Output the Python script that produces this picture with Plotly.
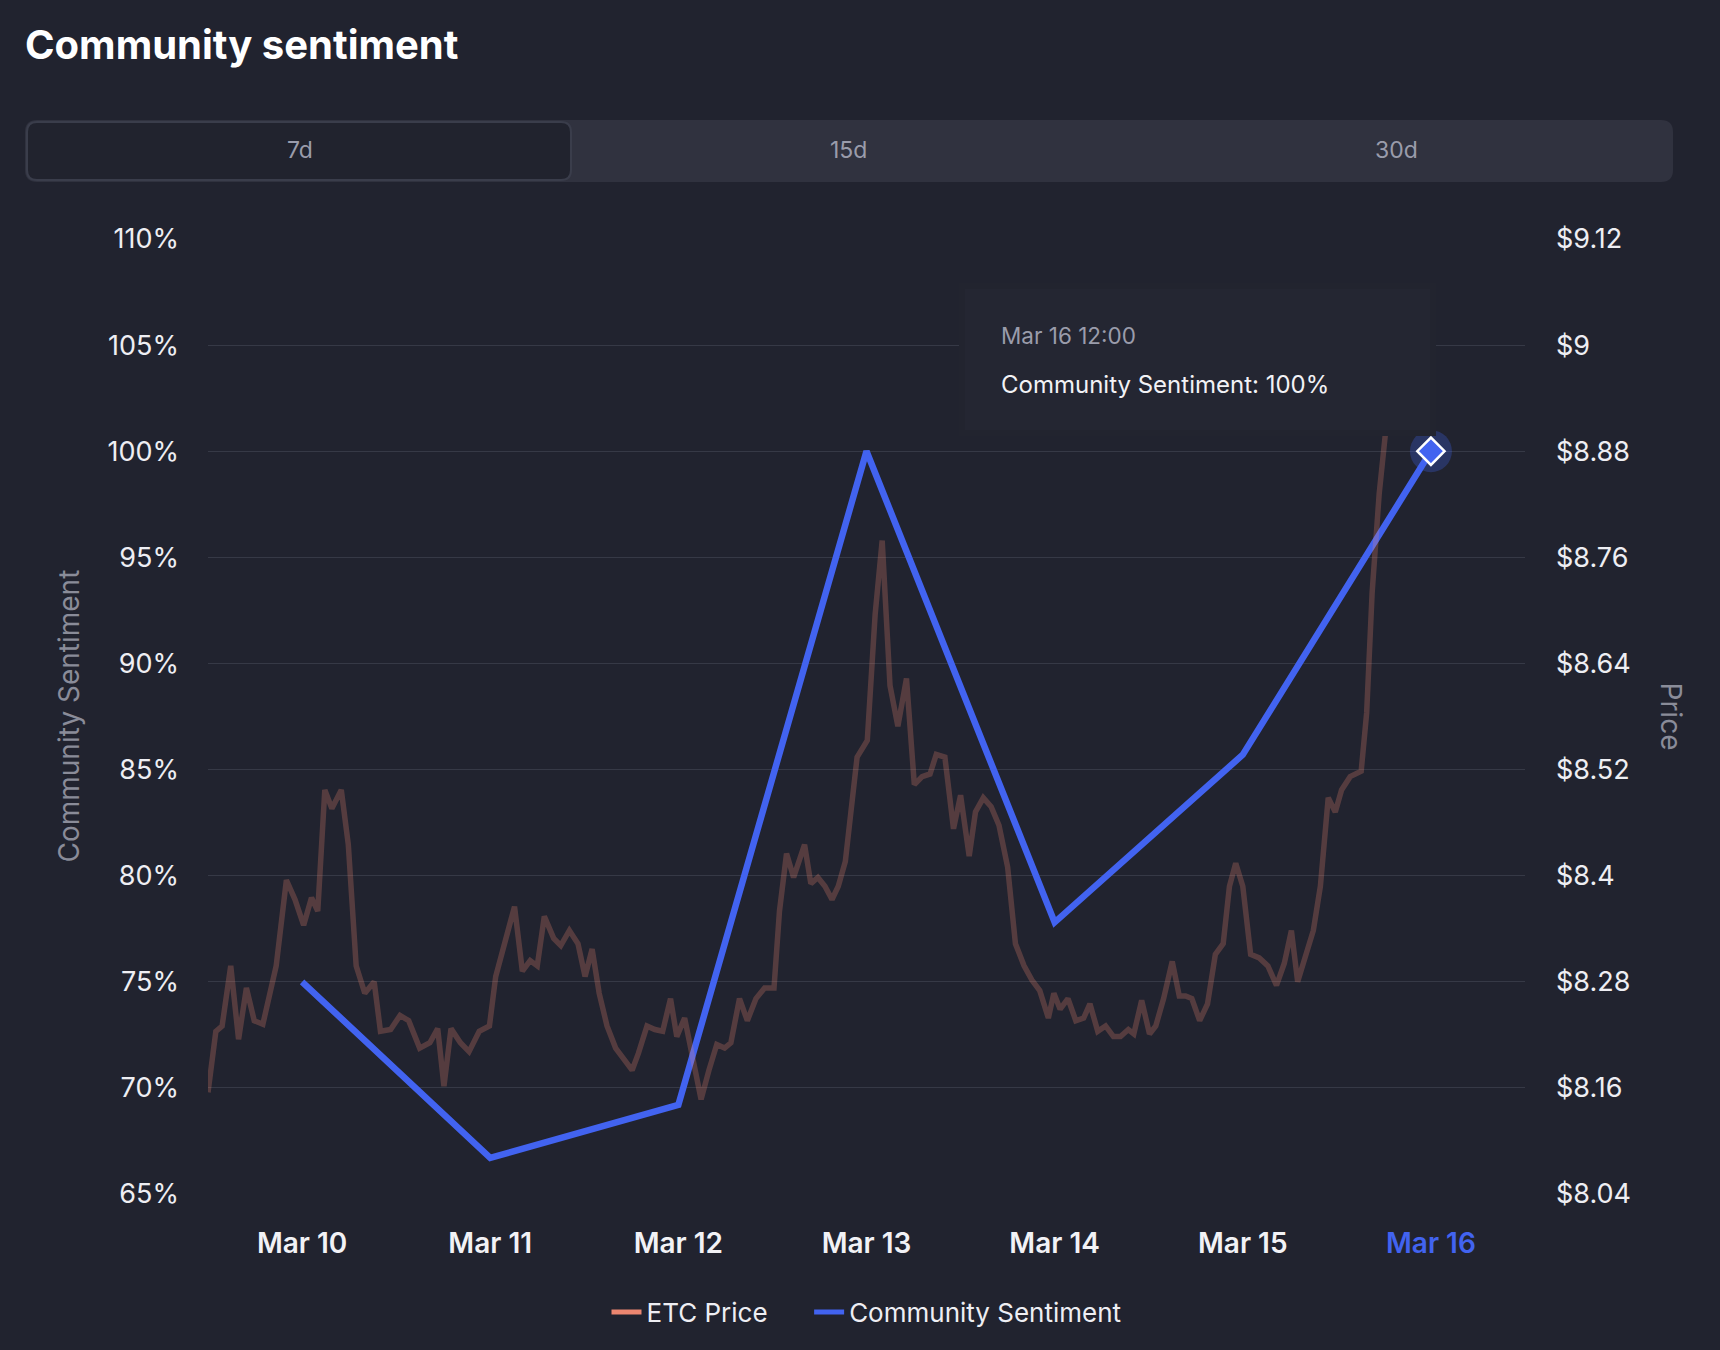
import plotly.graph_objects as go
import pandas as pd

# ---------------- data ----------------
sentiment_dates = ["2025-03-10 12:00", "2025-03-11 12:00", "2025-03-12 12:00", "2025-03-13 12:00",
                   "2025-03-14 12:00", "2025-03-15 12:00", "2025-03-16 12:00"]
sentiment_values = [75.0, 66.7, 69.2, 100.0, 77.8, 85.7, 100.0]

price_hours = [0, 1.0, 1.8, 2.9, 3.9, 4.9, 5.9, 7.0, 8.7, 10.0, 11.1, 12.2, 13.2, 14.0, 14.9, 15.8, 17.0, 17.9,
               18.9, 20.0, 21.2, 22.0, 23.3, 24.5, 25.6, 27.0, 28.3, 29.3, 30.1, 31.0, 32.2, 33.3, 34.6, 35.9,
               36.7, 38.0, 39.1, 40.1, 41.1, 42.0, 42.9, 44.1, 45.0, 46.1, 47.2, 48.1, 49.0, 49.9, 50.9, 52.0,
               53.1, 54.1, 54.9, 56.0, 57.0, 58.0, 59.0, 59.8, 60.8, 61.9, 62.9, 63.9, 64.9, 65.9, 66.7, 67.8,
               68.8, 69.9, 71.0, 72.2, 72.9, 73.8, 74.7, 76.1, 76.9, 77.8, 78.7, 79.6, 80.4, 81.3, 82.0, 82.8,
               83.7, 84.1, 85.1, 86.0, 87.0, 88.0, 89.1, 90.1, 91.1, 92.1, 92.9, 94.0, 95.1, 96.0, 97.1, 97.9,
               98.9, 99.9, 100.9, 102.0, 103.0, 104.1, 105.1, 106.1, 107.2, 107.9, 108.7, 109.7, 110.7, 111.7,
               112.5, 113.5, 114.5, 115.5, 116.4, 117.4, 118.1, 119.1, 120.1, 120.9, 121.9, 123.0, 123.9, 124.7,
               125.5, 126.5, 127.5, 128.5, 129.5, 130.3, 131.1, 132.0, 133.0, 134.1, 135.2, 136.3, 137.3, 138.2,
               139.0, 139.7, 141.0, 141.9, 142.9, 143.8, 144.6, 145.7, 147.1, 147.8, 148.5, 149.4, 150.2, 151.0]
price_values = [8.155, 8.224, 8.230, 8.298, 8.215, 8.273, 8.236, 8.232, 8.298, 8.395, 8.373, 8.344, 8.375, 8.360,
                8.497, 8.476, 8.497, 8.435, 8.298, 8.267, 8.280, 8.224, 8.226, 8.242, 8.236, 8.205, 8.211, 8.227,
                8.162, 8.227, 8.211, 8.201, 8.224, 8.230, 8.286, 8.329, 8.365, 8.292, 8.304, 8.298, 8.354, 8.329,
                8.321, 8.338, 8.323, 8.286, 8.317, 8.267, 8.230, 8.205, 8.193, 8.180, 8.199, 8.230, 8.226, 8.224,
                8.261, 8.218, 8.239, 8.193, 8.147, 8.180, 8.209, 8.205, 8.211, 8.261, 8.236, 8.261, 8.273, 8.273,
                8.360, 8.425, 8.398, 8.435, 8.391, 8.398, 8.388, 8.373, 8.388, 8.416, 8.472, 8.534, 8.547, 8.553,
                8.695, 8.779, 8.615, 8.569, 8.623, 8.503, 8.512, 8.515, 8.537, 8.534, 8.453, 8.491, 8.422, 8.472,
                8.488, 8.478, 8.457, 8.410, 8.323, 8.298, 8.282, 8.270, 8.239, 8.267, 8.249, 8.261, 8.236, 8.239,
                8.255, 8.224, 8.230, 8.218, 8.218, 8.226, 8.221, 8.259, 8.221, 8.230, 8.261, 8.303, 8.264, 8.264,
                8.261, 8.236, 8.255, 8.311, 8.323, 8.388, 8.414, 8.388, 8.311, 8.307, 8.298, 8.276, 8.301, 8.338,
                8.280, 8.301, 8.338, 8.388, 8.488, 8.472, 8.497, 8.512, 8.518, 8.584, 8.720, 8.832, 8.907, 8.969]

x_tick_dates = sentiment_dates
x_tick_labels = ["Mar 10", "Mar 11", "Mar 12", "Mar 13", "Mar 14", "Mar 15", "Mar 16"]
y_left_ticks = [65, 70, 75, 80, 85, 90, 95, 100, 105, 110]
y_left_labels = ["65%", "70%", "75%", "80%", "85%", "90%", "95%", "100%", "105%", "110%"]
y_right_ticks = [8.04, 8.16, 8.28, 8.40, 8.52, 8.64, 8.76, 8.88, 9.00, 9.12]
y_right_labels = ["$8.04", "$8.16", "$8.28", "$8.4", "$8.52", "$8.64", "$8.76", "$8.88", "$9", "$9.12"]
tabs = ["7d", "15d", "30d"]

# ---------------- style ----------------
W, H = 1720, 1350
ML, MR, MT, MB = 208, 195, 239, 156
PW, PH = W - ML - MR, H - MT - MB
BG = "#21232f"
GRID = "#363946"
BLUE = "#4263f0"
SALMON = "#ec8670"
FONT = "Inter"


def px(x):
    return (x - ML) / PW


def py(y):
    return (H - MB - y) / PH


def rrect(x0, y0, x1, y1, r):
    rx, ry = r / PW, r / PH
    a, b, c, d = px(x0), py(y1), px(x1), py(y0)  # left, bottom, right, top
    return (f"M {a+rx},{b} L {c-rx},{b} Q {c},{b} {c},{b+ry} L {c},{d-ry} Q {c},{d} {c-rx},{d} "
            f"L {a+rx},{d} Q {a},{d} {a},{d-ry} L {a},{b+ry} Q {a},{b} {a+rx},{b} Z")


base = pd.Timestamp("2025-03-10 00:00")
price_dates = [base + pd.Timedelta(hours=h) for h in price_hours]

fig = go.Figure()

fig.add_trace(go.Scatter(x=price_dates, y=price_values, yaxis="y2", mode="lines",
                         line=dict(color="rgba(236,134,112,0.26)", width=5.5),
                         name="ETC Price", showlegend=False))
fig.add_trace(go.Scatter(x=sentiment_dates, y=sentiment_values, mode="lines",
                         line=dict(color=BLUE, width=6.5),
                         name="Community Sentiment", showlegend=False))
# highlighted last point
fig.add_trace(go.Scatter(x=sentiment_dates[-1:], y=sentiment_values[-1:], mode="markers",
                         marker=dict(size=42, color="rgba(66,99,240,0.28)"), showlegend=False))
fig.add_trace(go.Scatter(x=sentiment_dates[-1:], y=sentiment_values[-1:], mode="markers",
                         marker=dict(size=21, symbol="diamond", color=BLUE, line=dict(color="white", width=2.5)),
                         showlegend=False))
# legend entries
fig.add_trace(go.Scatter(x=[None], y=[None], mode="lines", line=dict(color=SALMON, width=5),
                         name="ETC Price" + "\u00a0" * 5))
fig.add_trace(go.Scatter(x=[None], y=[None], mode="lines", line=dict(color=BLUE, width=5),
                         name="Community Sentiment"))

ticktext = x_tick_labels[:-1] + [f"<span style='color:{BLUE}'>{x_tick_labels[-1]}</span>"]

shapes = [
    dict(type="path", path=rrect(25, 120, 1673, 182, 12), xref="paper", yref="paper",
         fillcolor="#30323f", line=dict(width=0), layer="below"),
    dict(type="path", path=rrect(27, 122, 571, 180, 10), xref="paper", yref="paper",
         fillcolor="#21232e", line=dict(color="#3a3d4b", width=2), layer="below"),
    # tooltip box
    dict(type="rect", x0=px(959), x1=px(1436), y0=py(436), y1=py(283), xref="paper", yref="paper",
         fillcolor="#22242f", line=dict(width=0), layer="above"),
    dict(type="rect", x0=px(965), x1=px(1430), y0=py(430), y1=py(289), xref="paper", yref="paper",
         fillcolor="#242632", line=dict(width=0), layer="above"),
]

annotations = []
for label, xc in zip(tabs, [300, 848, 1396]):
    annotations.append(dict(text=label, x=px(xc), y=py(150), xref="paper", yref="paper", showarrow=False,
                            xanchor="center", yanchor="middle", font=dict(family=FONT, size=23, color="#9a9cab")))
annotations += [
    dict(text="Community Sentiment", x=px(68), y=0.5, xref="paper", yref="paper", showarrow=False,
         textangle=-90, xanchor="center", yanchor="middle", font=dict(family=FONT, size=28, color="#8a8c99")),
    dict(text="Price", x=px(1671), y=0.5, xref="paper", yref="paper", showarrow=False,
         textangle=90, xanchor="center", yanchor="middle", font=dict(family=FONT, size=28, color="#8a8c99")),
    dict(text="Mar 16 12:00", x=px(999), y=py(335), xref="paper", yref="paper", showarrow=False,
         xanchor="left", yanchor="middle", font=dict(family=FONT, size=22.5, color="#9a9cab")),
    dict(text="Community Sentiment: 100%", x=px(999), y=py(384), xref="paper", yref="paper", showarrow=False,
         xanchor="left", yanchor="middle", font=dict(family=FONT, size=24, color="#f2f2f6")),
]

fig.update_layout(
    width=W, height=H,
    margin=dict(l=ML, r=MR, t=MT, b=MB, autoexpand=False),
    paper_bgcolor=BG, plot_bgcolor=BG,
    hovermode=False,
    title=dict(text="Community sentiment", x=25 / W, xref="container", xanchor="left",
               y=1 - 45 / H, yref="container", yanchor="middle",
               font=dict(family=FONT, size=40, color="white", weight=700)),
    xaxis=dict(type="date", range=["2025-03-10 00:00", "2025-03-17 00:00"],
               tickvals=x_tick_dates, ticktext=ticktext, showgrid=False, zeroline=False, showline=False,
               ticks="", ticklabelstandoff=30,
               tickfont=dict(family=FONT, size=28, color="#f2f2f6", weight=600)),
    yaxis=dict(range=[65, 110], tickvals=y_left_ticks, ticktext=y_left_labels, showgrid=True,
               gridcolor=GRID, gridwidth=1.2, zeroline=False, showline=False, ticks="", ticklabelstandoff=28,
               tickfont=dict(family=FONT, size=27, color="#eeeef3")),
    yaxis2=dict(range=[8.04, 9.12], tickvals=y_right_ticks, ticktext=y_right_labels, overlaying="y",
                side="right", showgrid=False, zeroline=False, showline=False, ticks="", ticklabelstandoff=30,
                tickfont=dict(family=FONT, size=27, color="#eeeef3")),
    legend=dict(orientation="h", x=0.5, xanchor="center", y=py(1312), yanchor="middle",
                font=dict(family=FONT, size=26, color="#eeeef3"), itemwidth=30,
                bgcolor="rgba(0,0,0,0)"),
    shapes=shapes,
    annotations=annotations,
)

fig.write_html("out.html", config={"displayModeBar": False},
               post_script="document.body.style.margin='0';document.body.style.background='#21232f';")
